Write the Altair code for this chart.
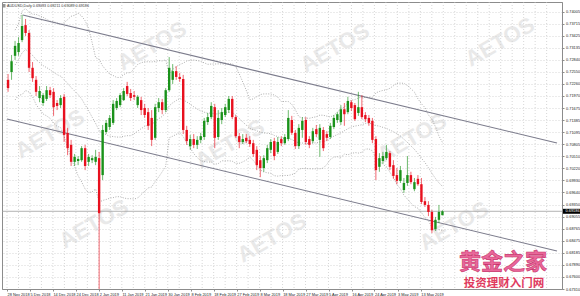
import json
import altair as alt
import pandas as pd
import numpy as np

# ---------------- data ----------------
opens = [0.7236,0.7255,0.7294,0.7303,0.7332,0.7368,0.7349,0.7265,0.7236,0.7192,
         0.7180,0.7190,0.7211,0.7207,0.7180,0.7175,0.7195,0.7108,0.7079,0.7038,
         0.7040,0.7042,0.7071,0.7038,0.7042,0.7038,0.7047,0.7006,0.7110,0.7122,
         0.7132,0.7168,0.7175,0.7187,0.7221,0.7204,0.7199,0.7175,0.7187,0.7168,
         0.7158,0.7144,0.7096,0.7168,0.7182,0.7163,0.7211,0.7236,0.7257,0.7243,
         0.7238,0.7115,0.7076,0.7093,0.7079,0.7091,0.7098,0.7134,0.7146,0.7170,
         0.7098,0.7139,0.7151,0.7163,0.7190,0.7146,0.7100,0.7086,0.7096,0.7091,
         0.7083,0.7067,0.7042,0.7023,0.7042,0.7067,0.7088,0.7062,0.7093,0.7083,
         0.7093,0.7139,0.7108,0.7076,0.7115,0.7139,0.7093,0.7088,0.7117,0.7091,
         0.7115,0.7105,0.7098,0.7122,0.7139,0.7134,0.7165,0.7158,0.7182,0.7175,
         0.7156,0.7170,0.7151,0.7144,0.7137,0.7093,0.7026,0.7040,0.7047,0.7059,
         0.7030,0.7006,0.6992,0.6970,0.6987,0.7006,0.6972,0.6997,0.6984,0.6943,
         0.6934,0.6917,0.6876,0.6898,0.69093]
highs = [0.7250,0.7296,0.7330,0.7339,0.7393,0.7383,0.7356,0.7279,0.7245,0.7221,
         0.7204,0.7221,0.7219,0.7216,0.7187,0.7199,0.7202,0.7120,0.7091,0.7057,
         0.7052,0.7076,0.7079,0.7057,0.7054,0.7067,0.7062,0.7127,0.7139,0.7151,
         0.7187,0.7192,0.7204,0.7216,0.7231,0.7214,0.7209,0.7199,0.7195,0.7178,
         0.7168,0.7163,0.7178,0.7192,0.7190,0.7216,0.7291,0.7274,0.7269,0.7253,
         0.7248,0.7125,0.7103,0.7105,0.7100,0.7108,0.7144,0.7156,0.7182,0.7178,
         0.7163,0.7168,0.7178,0.7197,0.7197,0.7151,0.7108,0.7105,0.7105,0.7100,
         0.7091,0.7076,0.7052,0.7054,0.7079,0.7093,0.7096,0.7098,0.7100,0.7105,
         0.7163,0.7149,0.7115,0.7129,0.7146,0.7146,0.7100,0.7120,0.7127,0.7129,
         0.7122,0.7112,0.7132,0.7151,0.7158,0.7175,0.7180,0.7195,0.7187,0.7180,
         0.7207,0.7199,0.7158,0.7151,0.7144,0.7100,0.7059,0.7062,0.7079,0.7064,
         0.7042,0.7023,0.7028,0.6999,0.7052,0.7014,0.6999,0.7006,0.6999,0.6953,
         0.6943,0.6922,0.6905,0.6934,0.69211]
lows = [0.7207,0.7236,0.7284,0.7294,0.7327,0.7342,0.7255,0.7231,0.7197,0.7182,
        0.7173,0.7185,0.7192,0.7149,0.7163,0.7168,0.7086,0.7054,0.7028,0.7028,
        0.7030,0.7038,0.7018,0.7028,0.7035,0.7030,0.6715,0.6994,0.7105,0.7115,
        0.7127,0.7163,0.7170,0.7185,0.7197,0.7185,0.7187,0.7168,0.7151,0.7144,
        0.7115,0.7076,0.7091,0.7158,0.7153,0.7158,0.7207,0.7226,0.7236,0.7231,
        0.7105,0.7079,0.7067,0.7071,0.7069,0.7083,0.7091,0.7127,0.7141,0.7071,
        0.7091,0.7129,0.7146,0.7156,0.7141,0.7096,0.7071,0.7081,0.7083,0.7074,
        0.7050,0.7018,0.7001,0.7014,0.7035,0.7059,0.7042,0.7057,0.7076,0.7079,
        0.7088,0.7103,0.7069,0.7069,0.7096,0.7079,0.7071,0.7083,0.7098,0.7050,
        0.7064,0.7088,0.7093,0.7117,0.7132,0.7127,0.7125,0.7153,0.7161,0.7137,
        0.7149,0.7141,0.7134,0.7125,0.7083,0.6994,0.7014,0.7033,0.7042,0.7018,
        0.6997,0.6984,0.6987,0.6963,0.6980,0.6984,0.6967,0.6980,0.6936,0.6929,
        0.6907,0.6866,0.6871,0.6890,0.69089]
closes = [0.7216,0.7281,0.7318,0.7325,0.7366,0.7349,0.7265,0.7240,0.7207,0.7209,
          0.7199,0.7211,0.7199,0.7170,0.7173,0.7192,0.7103,0.7071,0.7038,0.7050,
          0.7045,0.7071,0.7028,0.7050,0.7047,0.7050,0.6914,0.7115,0.7132,0.7144,
          0.7178,0.7185,0.7199,0.7209,0.7202,0.7192,0.7195,0.7195,0.7163,0.7151,
          0.7125,0.7091,0.7170,0.7182,0.7163,0.7211,0.7265,0.7257,0.7243,0.7238,
          0.7115,0.7088,0.7093,0.7079,0.7091,0.7100,0.7137,0.7146,0.7173,0.7096,
          0.7144,0.7158,0.7170,0.7190,0.7146,0.7100,0.7086,0.7093,0.7088,0.7081,
          0.7057,0.7030,0.7023,0.7047,0.7071,0.7086,0.7052,0.7086,0.7083,0.7098,
          0.7144,0.7108,0.7076,0.7120,0.7137,0.7086,0.7079,0.7112,0.7105,0.7120,
          0.7071,0.7096,0.7125,0.7144,0.7153,0.7165,0.7153,0.7185,0.7168,0.7141,
          0.7170,0.7146,0.7141,0.7132,0.7091,0.7018,0.7047,0.7052,0.7062,0.7026,
          0.7004,0.6992,0.7018,0.6987,0.7006,0.6989,0.6989,0.6984,0.6941,0.6934,
          0.6917,0.6873,0.6898,0.6917,0.69186]

date_tick_pos = [-0.3, 6.3, 12.8, 19.4, 26.0, 32.5, 39.1, 45.6, 52.2, 58.7,
                 65.3, 71.9, 78.4, 85.0, 91.5, 98.1, 104.6, 111.2, 117.8]
date_tick_labels = ["28 Nov 2018", "5 Dec 2018", "14 Dec 2018", "24 Dec 2018",
                    "2 Jan 2019", "11 Jan 2019", "21 Jan 2019", "30 Jan 2019",
                    "8 Feb 2019", "18 Feb 2019", "27 Feb 2019", "8 Mar 2019",
                    "18 Mar 2019", "27 Mar 2019", "5 Apr 2019", "16 Apr 2019",
                    "24 Apr 2019", "3 May 2019", "13 May 2019"]
price_ticks = [0.74005, 0.73715, 0.73425, 0.73135, 0.72840, 0.72550, 0.72260,
               0.71970, 0.71675, 0.71385, 0.71095, 0.70805, 0.70510, 0.70220,
               0.69930, 0.69640, 0.69350, 0.69055, 0.68765, 0.68475, 0.68185,
               0.67890, 0.67600, 0.67310]

channel_name = ["upper", "upper", "lower", "lower"]
channel_bar = [4.2, 156.7, -0.3, 156.7]
channel_price = [0.73925, 0.70834, 0.71414, 0.68227]

bid_price = [0.69186]
title_text = ["AUDUSD,Daily  0.69093 0.69211 0.69089 0.69186"]
watermark_text = "AETOS"
brand_big = "黄金之家"
brand_small = "投资理财入门网"

# ---------------- layout / style ----------------
W, H = 560, 287
X_DOMAIN = [-0.3, 156.7]
Y_DOMAIN = [0.67310, 0.74239]
GREEN = "#1a921a"
RED = "#e8101e"
FONT = "Liberation Sans"
AXIS_GRAY = "#8c8c8c"

xs = alt.Scale(domain=X_DOMAIN, nice=False, zero=False)
ys = alt.Scale(domain=Y_DOMAIN, nice=False, zero=False)

label_expr = "%s[indexof(%s, datum.value)]" % (json.dumps(date_tick_labels), json.dumps(date_tick_pos))
xaxis = alt.Axis(values=date_tick_pos, labelExpr=label_expr, title=None, grid=False,
                 labelFontSize=3.9, labelFont=FONT, labelColor="#222222",
                 labelAlign="left", labelBaseline="top", labelPadding=1,
                 labelOverlap=False, labelFlush=False, tickSize=2,
                 tickColor=AXIS_GRAY, domainColor=AXIS_GRAY)
yaxis = alt.Axis(values=price_ticks, format=".5f", orient="right", title=None,
                 grid=True, gridColor="#c6c6c6", gridDash=[1, 2], gridWidth=0.7,
                 labelFontSize=3.9, labelFont=FONT, labelColor="#222222",
                 labelPadding=1.5, labelOverlap=False, labelFlush=False,
                 tickSize=2, tickColor=AXIS_GRAY, domainColor=AXIS_GRAY)

df = pd.DataFrame({"i": list(range(len(opens))), "o": opens, "h": highs,
                   "l": lows, "c": closes})
df["dir"] = np.where(df["c"] >= df["o"], "up", "down")
color_enc = alt.Color("dir:N", scale=alt.Scale(domain=["up", "down"], range=[GREEN, RED]),
                      legend=None)

# vertical grid every half label step
vgrid = pd.DataFrame({"g": np.arange(X_DOMAIN[0], X_DOMAIN[1], 3.2774)})
vgrid_layer = alt.Chart(vgrid).mark_rule(color="#c6c6c6", strokeDash=[1, 2], strokeWidth=0.7).encode(
    x=alt.X("g:Q", scale=xs, axis=xaxis), y=alt.value(0), y2=alt.value(H))

# watermarks (kept fully inside the plot)
wm = pd.DataFrame({"wx": [150, 333, 498, 48, 228, 410, 92, 270, 452, 505],
                   "wy": [44, 46, 40, 132, 142, 136, 222, 236, 224, 160]})
wm = wm.iloc[:9]
wm["t"] = watermark_text
wm_layer = alt.Chart(wm).mark_text(angle=330, fontSize=22, fontWeight="bold", font=FONT,
                                   color="#d4d4d4", opacity=0.5).encode(
    x=alt.X("wx:Q", scale=None), y=alt.Y("wy:Q", scale=None), text="t:N")

base = alt.Chart(df)
wick = base.mark_rule(strokeWidth=0.8, opacity=0.8, clip=True).encode(
    x=alt.X("i:Q", scale=xs, axis=xaxis),
    y=alt.Y("l:Q", scale=ys, axis=yaxis), y2="h:Q", color=color_enc)
body = base.mark_bar(size=2.4, clip=True).encode(
    x=alt.X("i:Q", scale=xs, axis=xaxis),
    y=alt.Y("o:Q", scale=ys, axis=yaxis), y2="c:Q", color=color_enc)

bands = base.transform_window(
    ma="mean(c)", sd="stdevp(c)", frame=[-19, 0], sort=[alt.SortField("i")]
).transform_filter("datum.i >= 2").transform_calculate(
    bu="datum.ma + 2*datum.sd", bl="datum.ma - 2*datum.sd", bm="datum.ma"
).transform_fold(["bu", "bm", "bl"], as_=["band", "val"]).mark_line(
    color="#8a8a8a", strokeWidth=0.7, strokeDash=[1, 1.5], clip=True).encode(
    x=alt.X("i:Q", scale=xs, axis=xaxis),
    y=alt.Y("val:Q", scale=ys, axis=yaxis), detail="band:N", order="i:Q")

chan = pd.DataFrame({"name": channel_name, "bar": channel_bar, "p": channel_price})
chan_layer = alt.Chart(chan).mark_line(color="#7c7c8c", strokeWidth=1.1, clip=True).encode(
    x=alt.X("bar:Q", scale=xs, axis=xaxis),
    y=alt.Y("p:Q", scale=ys, axis=yaxis), detail="name:N")

bid = pd.DataFrame({"p": bid_price})
bid_line = alt.Chart(bid).mark_rule(color="#a0a0a0", strokeWidth=0.8).encode(
    y=alt.Y("p:Q", scale=ys, axis=yaxis))
bid_box = alt.Chart(bid).transform_calculate(
    lo="datum.p - 0.0006", hi="datum.p + 0.0006").mark_rect(color="black").encode(
    x=alt.value(W + 1), x2=alt.value(W + 18),
    y=alt.Y("lo:Q", scale=ys, axis=yaxis), y2="hi:Q")
bid_text = alt.Chart(bid).transform_calculate(lbl="format(datum.p, '.5f')").mark_text(
    align="left", baseline="middle", fontSize=3.9, font=FONT, color="white").encode(
    x=alt.value(W + 3.5), y=alt.Y("p:Q", scale=ys, axis=yaxis), text="lbl:N")

title_df = pd.DataFrame({"t": title_text})
title_layer = alt.Chart(title_df).mark_text(
    align="left", baseline="middle", fontSize=3.7, font=FONT, color="#333333").encode(
    x=alt.value(5), y=alt.value(3.6), text="t:N")
icon_layer = alt.Chart(title_df).mark_rect(color="#6a6a6a", opacity=0.7).encode(
    x=alt.value(1), x2=alt.value(3.5), y=alt.value(2), y2=alt.value(5.5))

brand = pd.DataFrame({"t": [brand_big, brand_small], "bx": [501, 502], "by": [260, 282]})
brand_big_layer = alt.Chart(brand[brand.t == brand_big]).mark_text(
    font="Noto Sans CJK SC", fontWeight="bold", fontSize=22, color="#e9679a",
    stroke="#c8336b", strokeWidth=0.6).encode(
    x=alt.X("bx:Q", scale=None), y=alt.Y("by:Q", scale=None), text="t:N")
brand_small_layer = alt.Chart(brand[brand.t == brand_small]).mark_text(
    font="Noto Sans CJK SC", fontWeight="bold", fontSize=11.5, color="#e03a5e").encode(
    x=alt.X("bx:Q", scale=None), y=alt.Y("by:Q", scale=None), text="t:N")

chart = alt.layer(
    vgrid_layer, wm_layer, bands, chan_layer, bid_line, wick, body,
    bid_box, bid_text, title_layer, icon_layer, brand_big_layer, brand_small_layer
).properties(
    width=W, height=H,
    padding={"left": 2, "top": 2, "right": 18, "bottom": 7},
    autosize=alt.AutoSizeParams(type="none"),
    background="white",
).configure_view(stroke=AXIS_GRAY, strokeWidth=1)

chart.save("out.html", embed_options={"renderer": "svg", "actions": False})
